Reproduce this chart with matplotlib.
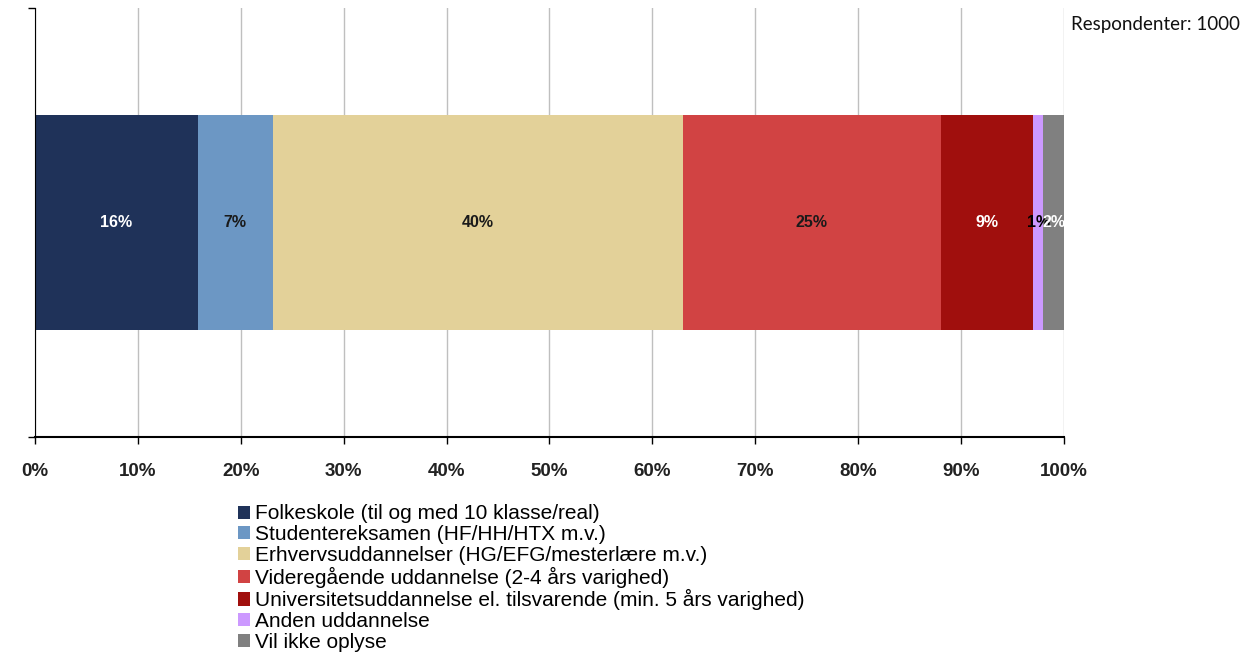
import matplotlib.pyplot as plt
from matplotlib.ticker import PercentFormatter

plt.rcParams['font.family'] = ['Liberation Sans', 'DejaVu Sans']

categories = ['Folkeskole (til og med 10 klasse/real)',
              'Studentereksamen (HF/HH/HTX m.v.)',
              'Erhvervsuddannelser (HG/EFG/mesterlære m.v.)',
              'Videregående uddannelse (2-4 års varighed)',
              'Universitetsuddannelse el. tilsvarende (min. 5 års varighed)',
              'Anden uddannelse',
              'Vil ikke oplyse']
values = [15.8, 7.3, 39.9, 25.0, 9.0, 1.0, 2.0]
bar_labels = ['16%', '7%', '40%', '25%', '9%', '1%', '2%']
colors = ['#1f3259', '#6c97c4', '#e3d199', '#d14343', '#a00f0d', '#cc99ff', '#808080']
label_colors = ['white', '#1a1a1a', '#1a1a1a', '#1a1a1a', 'white', 'black', 'white']

fig = plt.figure(figsize=(12.58, 6.56), dpi=100)
ax = fig.add_axes([0.0278, 0.3338, 0.818, 0.654])

left = 0
for cat, v, c, lab, lc in zip(categories, values, colors, bar_labels, label_colors):
    ax.barh(0, v, left=left, height=0.5, color=c, label=cat, zorder=2)
    ax.text(left + v / 2, 0, lab, ha='center', va='center', color=lc,
            fontsize=11.5, fontweight='bold', zorder=3)
    left += v

ax.set_xlim(0, 100)
ax.set_ylim(-0.5, 0.5)
ax.set_xticks(range(0, 101, 10))
ax.xaxis.set_major_formatter(PercentFormatter(decimals=0))
ax.set_yticks([-0.5, 0.5])
ax.set_yticklabels([])
ax.tick_params(axis='both', direction='out', length=5, width=1, color='black')
ax.tick_params(axis='x', labelsize=13.5, pad=14)
for t in ax.get_xticklabels():
    t.set_fontweight('bold')
    t.set_color('#222222')
ax.grid(axis='x', color='#bfbfbf', linewidth=1, zorder=0)
for s in ['top', 'right']:
    ax.spines[s].set_visible(False)
ax.spines['left'].set_color('black')
ax.spines['bottom'].set_color('black')
ax.spines['bottom'].set_linewidth(1.5)

fig.text(0.851, 0.962, 'Respondenter: 1000', fontsize=13.5, family=['Lato', 'DejaVu Sans'],
         ha='left', va='center', color='#111111')

fig.legend(loc='upper left', bbox_to_anchor=(0.189, 0.231), frameon=False,
           fontsize=15, handlelength=0.6, handleheight=0.6, handletextpad=0.25,
           labelspacing=0.08, borderaxespad=0, borderpad=0)

fig.savefig('out.png', dpi=100)
